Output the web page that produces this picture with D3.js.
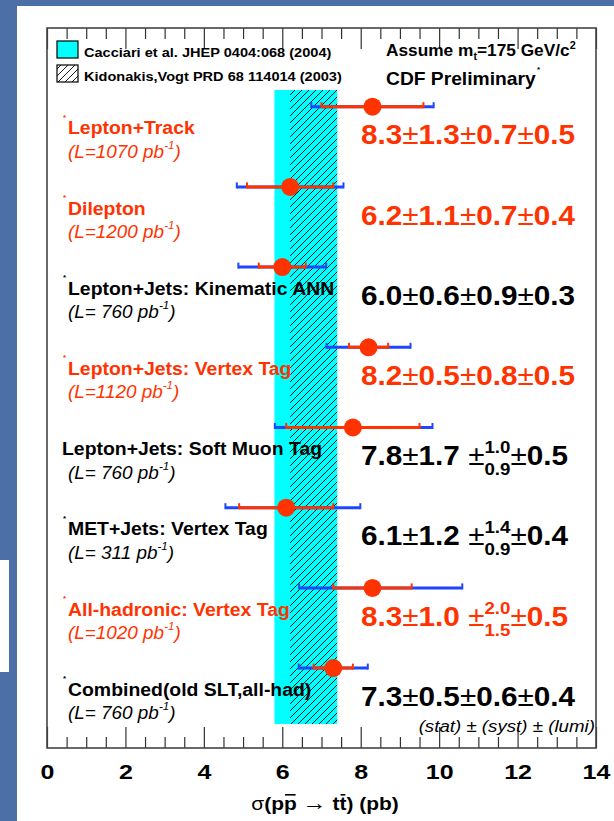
<!DOCTYPE html>
<html><head><meta charset="utf-8">
<script src="https://cdn.jsdelivr.net/npm/d3@7"></script>
<style>body{margin:0;background:#fff}svg{display:block}text{font-family:"Liberation Sans",Arial,Helvetica,sans-serif;white-space:pre}</style>
</head><body><svg id="c" width="614" height="821"></svg>
<script>
const channels = ["Lepton+Track","Dilepton","Lepton+Jets: Kinematic ANN","Lepton+Jets: Vertex Tag","Lepton+Jets: Soft Muon Tag","MET+Jets: Vertex Tag","All-hadronic: Vertex Tag","Combined(old SLT,all-had)"];
const lumis = ["1070","1200"," 760","1120"," 760"," 311","1020"," 760"];
const central = [8.3,6.2,6.0,8.2,7.8,6.1,8.3,7.3];
const statErr = [1.3,1.1,0.6,0.5,1.7,1.2,1.0,0.5];
const systUp = [0.7,0.7,0.9,0.8,1.0,1.4,2.0,0.6];
const systDown = [0.7,0.7,0.9,0.8,0.9,0.9,1.5,0.6];
const lumiErr = [0.5,0.4,0.3,0.5,0.5,0.4,0.5,0.4];
const totalLow = [6.74,4.84,4.88,7.13,5.81,4.55,6.43,6.42];
const totalHigh = [9.86,7.56,7.12,9.27,9.83,7.99,10.59,8.18];
const highlighted = [true,true,false,true,false,false,true,false];
const starred = [true,true,true,true,false,true,true,true];
const xTicks = [0,2,4,6,8,10,12,14];
const theoryCacciari = [5.8,7.4];
const theoryKidonakis = [6.2,7.4];

const W=614,H=821;
const svg=d3.select("#c");
const X0=47,X1=596,FT=28,FB=748;
const x=d3.scaleLinear().domain([0,14]).range([X0,X1]);
const y=d3.scalePoint().domain(channels).range([106.7,668.1]);
const RED="#ff3300", BLUE="#1f45ff", SLIDE="#4b6fa6";

svg.append("rect").attr("width",W).attr("height",H).attr("fill","#fff");
svg.append("rect").attr("x",0).attr("y",0).attr("width",W).attr("height",6).attr("fill",SLIDE);
svg.append("rect").attr("x",0).attr("y",0).attr("width",17).attr("height",H).attr("fill",SLIDE);
svg.append("rect").attr("x",0).attr("y",560).attr("width",9).attr("height",112).attr("fill","#fff");

const defs=svg.append("defs");
const pat=defs.append("pattern").attr("id","hatch").attr("patternUnits","userSpaceOnUse").attr("width",7).attr("height",7);
pat.append("path").attr("d","M-1,1 l2,-2 M0,7 l7,-7 M6,8 l2,-2").attr("stroke","#000").attr("stroke-width",0.9);

function rich(parent,x0,y0,pieces,o){
  const g=parent.append("g"); let cx=0;
  const mk=(t,px,py,p)=>{
    const el=g.append("text").attr("x",px).attr("y",py).text(t)
      .attr("font-size",p.size||o.size).attr("font-weight",p.w||o.w||"normal")
      .attr("font-style",p.it||o.it||"normal").attr("fill",p.fill||o.fill||"#000");
    return el.node().getComputedTextLength();
  };
  pieces.forEach(p=>{
    if(typeof p==="string") p={t:p};
    if(p.sup!==undefined){
      const w1=mk(p.sup,cx,p.supDy,p), w2=mk(p.sub,cx,p.subDy,p);
      cx+=Math.max(w1,w2);
    } else {
      const w=mk(p.t,cx,p.dy||0,p);
      if(p.over){const s=p.size||o.size;
        g.append("line").attr("x1",cx+1).attr("x2",cx+w-1).attr("y1",-s*0.8).attr("y2",-s*0.8).attr("stroke",o.fill||"#000").attr("stroke-width",1.6);}
      cx+=w;
    }
  });
  const sx=o.sx||1; let tx=x0;
  if(o.anchor==="middle") tx=x0-cx*sx/2;
  if(o.anchor==="end") tx=x0-cx*sx;
  g.attr("transform",`translate(${tx},${y0}) scale(${sx},1)`);
  return cx*sx;
}

// theory bands
svg.append("rect").attr("x",x(theoryCacciari[0])).attr("y",90)
  .attr("width",x(theoryCacciari[1])-x(theoryCacciari[0])).attr("height",634).attr("fill","#00ffff");
svg.append("rect").attr("x",x(theoryKidonakis[0])).attr("y",90)
  .attr("width",x(theoryKidonakis[1])-x(theoryKidonakis[0])).attr("height",634).attr("fill","url(#hatch)");

// axes ticks
function ticks(axisFn,yPos,vals,len){
  const g=svg.append("g").attr("transform",`translate(0,${yPos})`)
    .call(axisFn(x).tickValues(vals).tickSizeInner(-len).tickSizeOuter(0).tickFormat(""));
  g.select(".domain").remove();
  g.selectAll("line").attr("stroke","#333").attr("stroke-width",1.2);
  return g;
}
const minorVals=x.ticks(28).filter(v=>v%2!==0);
ticks(d3.axisBottom,FB,minorVals,11);
ticks(d3.axisTop,FT,minorVals,11);
ticks(d3.axisTop,FT,xTicks,21);
const major=svg.append("g").attr("transform",`translate(0,${FB})`)
  .call(d3.axisBottom(x).tickValues(xTicks).tickSizeInner(-21).tickSizeOuter(0).tickFormat(d3.format("d")));
major.attr("font-family",null).attr("font-size",null);
major.select(".domain").remove();
major.selectAll("line").attr("stroke","#333").attr("stroke-width",1.2);
major.selectAll("text").attr("y",31).attr("dy",null).attr("font-size",20).attr("font-weight","bold")
  .attr("fill","#000").attr("transform","scale(1.25,1)");

// rows
const f=d3.format(".1f");
channels.forEach((c,i)=>{
  const py=y(c), col=highlighted[i]?RED:"#000";
  svg.append("line").attr("x1",x(totalLow[i])).attr("x2",x(totalHigh[i])).attr("y1",py).attr("y2",py)
    .attr("stroke",BLUE).attr("stroke-width",3);
  [totalLow[i],totalHigh[i]].forEach(v=>svg.append("line").attr("x1",x(v)).attr("x2",x(v)).attr("y1",py-4.5).attr("y2",py+1.5).attr("stroke",BLUE).attr("stroke-width",2));
  const sl=central[i]-statErr[i], sh=central[i]+statErr[i];
  svg.append("line").attr("x1",x(sl)).attr("x2",x(sh)).attr("y1",py).attr("y2",py)
    .attr("stroke",RED).attr("stroke-width",3);
  [sl,sh].forEach(v=>svg.append("line").attr("x1",x(v)).attr("x2",x(v)).attr("y1",py-4.5).attr("y2",py+1.5).attr("stroke",RED).attr("stroke-width",2));
  svg.append("circle").attr("cx",x(central[i])).attr("cy",py).attr("r",9).attr("fill",RED);

  if(starred[i]) svg.append("text").attr("x",63).attr("y",py+13).text("*").attr("font-size",8).attr("font-weight","bold").attr("fill",col);
  rich(svg,starred[i]?68:62,py+27.6,[c],{size:18.5,w:"bold",fill:col,sx:1.05});
  rich(svg,68,py+51,["(L="+lumis[i]+" pb",{t:"-1",size:11,dy:-9},")"],{size:18,it:"italic",fill:col,sx:1.05});

  const vp=[f(central[i]),{t:"±",w:"normal"},f(statErr[i])];
  if(systUp[i]===systDown[i]) vp.push({t:"±",w:"normal"},f(systUp[i]));
  else vp.push({t:" ±",w:"normal"},{sup:f(systUp[i]),sub:f(systDown[i]),size:17,supDy:-12,subDy:10});
  vp.push({t:"±",w:"normal"},f(lumiErr[i]));
  rich(svg,361,py+37.7,vp,{size:27,w:"bold",fill:col,sx:1.1});
});

rich(svg,595,731.7,["(stat) ± (syst) ± (lumi)"],{size:17,it:"italic",sx:1.1,anchor:"end"});

// legend
svg.append("rect").attr("x",57).attr("y",41).attr("width",21).attr("height",17).attr("fill","#00ffff").attr("stroke","#000").attr("stroke-width",1.2);
rich(svg,84,57,["Cacciari et al. JHEP 0404:068 (2004)"],{size:13,w:"bold",sx:1.12});
svg.append("rect").attr("x",57).attr("y",65).attr("width",21).attr("height",17).attr("fill","url(#hatch)").attr("stroke","#000").attr("stroke-width",1.2);
rich(svg,84,81,["Kidonakis,Vogt PRD 68 114014 (2003)"],{size:13,w:"bold",sx:1.12});
rich(svg,386,56,["Assume m",{t:"t",size:10,dy:4},"=175 GeV/c",{t:"2",size:10,dy:-7}],{size:16,w:"bold",sx:1.08});
rich(svg,386,85,["CDF Preliminary"],{size:17.5,w:"bold",sx:1.1});
svg.append("text").attr("x",537).attr("y",72).text("*").attr("font-size",8).attr("font-weight","bold");

// axis title
rich(svg,325,810,[{t:"σ",w:"normal"},"(p",{t:"p",over:true},{t:" ",w:"normal"},{t:"→",w:"normal",size:22},{t:" ",w:"normal"},"t",{t:"t",over:true},") (pb)"],{size:19,w:"bold",sx:1.1,anchor:"middle"});

// frame
svg.append("rect").attr("x",X0).attr("y",FT).attr("width",X1-X0).attr("height",FB-FT)
  .attr("fill","none").attr("stroke","#444").attr("stroke-width",1.6);
</script></body></html>
